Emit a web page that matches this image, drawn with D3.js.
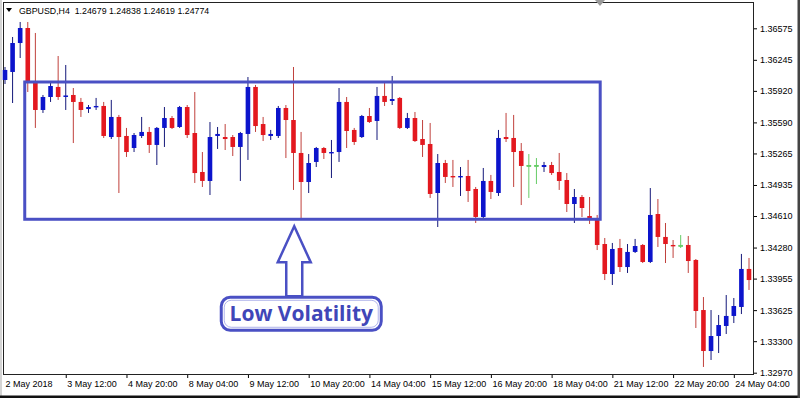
<!DOCTYPE html>
<html>
<head>
<meta charset="utf-8">
<script src="https://cdn.jsdelivr.net/npm/d3@7"></script>
<style>
	body { margin: 0; background: #fff; }
	svg { display: block; }
</style>
</head>
<body>
<svg id="chart" width="800" height="398"></svg>
<script>
// GBPUSD H4 candles, 2 May 2018 04:00 onwards
const openPrices = [
	1.36034, 1.36118, 1.36421, 1.36578, 1.36013, 1.35720, 1.35856, 1.35961, 1.35856, 1.35877,
	1.35804, 1.35730, 1.35751, 1.35762, 1.35437, 1.35647, 1.35448, 1.35322, 1.35448, 1.35490,
	1.35354, 1.35532, 1.35636, 1.35542, 1.35751, 1.35479, 1.35071, 1.34977, 1.35448, 1.35437,
	1.35437, 1.35333, 1.35469, 1.35961, 1.35573, 1.35448, 1.35448, 1.35741, 1.35615, 1.35270,
	1.34966, 1.35176, 1.35322, 1.35270, 1.35280, 1.35804, 1.35511, 1.35437, 1.35657, 1.35605,
	1.35867, 1.35814, 1.35846, 1.35532, 1.35636, 1.35416, 1.35364, 1.34851, 1.35165, 1.35029,
	1.35019, 1.35029, 1.34893, 1.34600, 1.34977, 1.34851, 1.35437, 1.35427, 1.35291, 1.35139,
	1.35139, 1.35123, 1.35144, 1.35071, 1.34987, 1.34736, 1.34809, 1.34610, 1.34568, 1.34317,
	1.34003, 1.34275, 1.34076, 1.34234, 1.34307, 1.34129, 1.34631, 1.34391, 1.34307, 1.34302,
	1.34307, 1.34150, 1.33626, 1.33197, 1.33354, 1.33459, 1.33564, 1.33658, 1.34056
];
const highPrices = [
	1.36170, 1.36484, 1.36641, 1.36641, 1.36526, 1.35877, 1.36013, 1.36285, 1.36191, 1.35950,
	1.35846, 1.35772, 1.35846, 1.35804, 1.35825, 1.35668, 1.35532, 1.35479, 1.35647, 1.35542,
	1.35542, 1.35751, 1.35657, 1.35762, 1.35772, 1.35908, 1.35280, 1.35594, 1.35542, 1.35573,
	1.35458, 1.35490, 1.36065, 1.35982, 1.35647, 1.35511, 1.35762, 1.35772, 1.36170, 1.35490,
	1.35259, 1.35333, 1.35333, 1.35406, 1.35950, 1.35856, 1.35532, 1.35668, 1.35741, 1.35961,
	1.36003, 1.36076, 1.35856, 1.35689, 1.35699, 1.35615, 1.35584, 1.35259, 1.35197, 1.35197,
	1.35123, 1.35197, 1.34914, 1.35113, 1.35040, 1.35511, 1.35689, 1.35668, 1.35374, 1.35259,
	1.35217, 1.35176, 1.35176, 1.35270, 1.35060, 1.34893, 1.34830, 1.34809, 1.34621, 1.34380,
	1.34328, 1.34370, 1.34317, 1.34370, 1.34317, 1.34903, 1.34788, 1.34537, 1.34359, 1.34411,
	1.34401, 1.34160, 1.33762, 1.33626, 1.33574, 1.33783, 1.33752, 1.34213, 1.34171
];
const lowPrices = [
	1.35992, 1.35793, 1.36264, 1.35908, 1.35532, 1.35689, 1.35804, 1.35825, 1.35720, 1.35374,
	1.35647, 1.35689, 1.35720, 1.35427, 1.35416, 1.34851, 1.35228, 1.35280, 1.35427, 1.35270,
	1.35144, 1.35333, 1.35521, 1.35532, 1.35427, 1.34956, 1.34914, 1.34830, 1.35312, 1.35301,
	1.35238, 1.34977, 1.35197, 1.35490, 1.35395, 1.35406, 1.35427, 1.35217, 1.34883, 1.34568,
	1.34851, 1.35123, 1.35207, 1.35008, 1.35176, 1.35322, 1.35354, 1.35427, 1.35584, 1.35406,
	1.35762, 1.35772, 1.35521, 1.35521, 1.35385, 1.35228, 1.34799, 1.34495, 1.34956, 1.34914,
	1.34820, 1.34757, 1.34537, 1.34589, 1.34788, 1.34820, 1.35385, 1.34914, 1.34725, 1.34799,
	1.34945, 1.35071, 1.35040, 1.34883, 1.34652, 1.34537, 1.34600, 1.34527, 1.34254, 1.33940,
	1.33888, 1.34024, 1.34014, 1.34223, 1.34118, 1.34118, 1.34286, 1.34118, 1.34171, 1.34275,
	1.34014, 1.33438, 1.33030, 1.33103, 1.33176, 1.33375, 1.33490, 1.33584, 1.33836
];
const closePrices = [
	1.36139, 1.36421, 1.36578, 1.36013, 1.35720, 1.35856, 1.35971, 1.35856, 1.35872, 1.35804,
	1.35720, 1.35751, 1.35762, 1.35448, 1.35647, 1.35437, 1.35280, 1.35458, 1.35490, 1.35354,
	1.35532, 1.35636, 1.35532, 1.35751, 1.35458, 1.35060, 1.34977, 1.35437, 1.35469, 1.35416,
	1.35333, 1.35479, 1.35961, 1.35552, 1.35458, 1.35469, 1.35741, 1.35615, 1.35270, 1.34966,
	1.35165, 1.35322, 1.35270, 1.35280, 1.35804, 1.35500, 1.35385, 1.35657, 1.35594, 1.35867,
	1.35804, 1.35835, 1.35532, 1.35636, 1.35395, 1.35354, 1.34841, 1.35165, 1.35019, 1.35019,
	1.35029, 1.34872, 1.34600, 1.34977, 1.34862, 1.35427, 1.35416, 1.35280, 1.35134, 1.35139,
	1.35139, 1.35144, 1.35060, 1.34977, 1.34736, 1.34809, 1.34694, 1.34589, 1.34307, 1.34003,
	1.34265, 1.34076, 1.34234, 1.34296, 1.34129, 1.34621, 1.34391, 1.34317, 1.34296, 1.34302,
	1.34139, 1.33616, 1.33197, 1.33354, 1.33469, 1.33564, 1.33668, 1.34056, 1.33940
];

// axis labels
const priceTicks = [1.36575, 1.36245, 1.35920, 1.35590, 1.35265, 1.34935, 1.34610, 1.34280, 1.33955, 1.33625, 1.33300, 1.32970];
const timeLabels = ["2 May 2018", "3 May 12:00", "4 May 20:00", "8 May 04:00", "9 May 12:00", "10 May 20:00", "14 May 04:00",
	"15 May 12:00", "16 May 20:00", "18 May 04:00", "21 May 12:00", "22 May 20:00", "24 May 04:00"];
const barsPerLabel = 8;

// consolidation range (bar index, price)
const rangeBars = [2.6, 78.4];
const rangePrices = [1.34576, 1.36013];
const arrowBar = 38.1;
const calloutText = "Low Volatility";

const headerText = "GBPUSD,H4  1.24679 1.24838 1.24619 1.24774";

const svg = d3.select("#chart");
const plot = { left: 3, top: 2, right: 753, bottom: 374 };
const boxColor = "#4a50c4";

// chart background and window frame
svg.append("rect").attr("width", 800).attr("height", 398).attr("fill", "#fff");
svg.append("rect").attr("x", 0).attr("y", 0).attr("width", 2).attr("height", 398).attr("fill", "#d4d4d4");
svg.append("rect").attr("x", 0).attr("y", 395.5).attr("width", 800).attr("height", 2.5).attr("fill", "#111");
svg.append("rect").attr("x", 797.5).attr("y", 0).attr("width", 2.5).attr("height", 398).attr("fill", "#444");

let data = openPrices.map((o, i) => ({
	i: i,
	open: o,
	high: highPrices[i],
	low: lowPrices[i],
	close: closePrices[i]
}));

// scales
let x = d3.scaleLinear()
	.domain([0, data.length - 1])
	.range([5, 749]);

let y = d3.scaleLinear()
	.domain([1.32970, 1.36575])
	.range([372.7, 28.3]);

// y-axis on the right
let yAxis = svg.append("g")
	.attr("transform", "translate(" + plot.right + ",0)")
	.call(d3.axisRight(y)
		.tickValues(priceTicks)
		.tickSize(4)
		.tickPadding(3)
		.tickFormat(d3.format(".5f")));
yAxis.select(".domain").remove();
yAxis.selectAll("text")
	.attr("font-family", "Liberation Sans, Arial, sans-serif")
	.attr("font-size", 9)
	.attr("fill", "#000");
yAxis.selectAll("line").attr("stroke", "#000");

// x-axis
let tickIdx = timeLabels.map((d, k) => k * barsPerLabel);
let xAxis = svg.append("g")
	.attr("transform", "translate(0," + plot.bottom + ")")
	.call(d3.axisBottom(x)
		.tickValues(tickIdx)
		.tickSize(4)
		.tickPadding(3)
		.tickFormat((d, k) => timeLabels[k]));
xAxis.select(".domain").remove();
xAxis.selectAll("text")
	.attr("text-anchor", "start")
	.attr("x", 1)
	.attr("font-family", "Liberation Sans, Arial, sans-serif")
	.attr("font-size", 9)
	.attr("fill", "#000");
xAxis.selectAll("line").attr("stroke", "#000");
// first label sits at the left edge, no tick mark
xAxis.select(".tick").select("line").remove();
xAxis.select(".tick").select("text").attr("x", 0);

// plot frame
svg.append("rect")
	.attr("x", plot.left + 0.5)
	.attr("y", plot.top + 0.5)
	.attr("width", plot.right - plot.left)
	.attr("height", plot.bottom - plot.top)
	.attr("fill", "none")
	.attr("stroke", "#222")
	.attr("stroke-width", 1);

// chart shift marker
svg.append("path")
	.attr("d", "M595,0 L605,0 L600,6 Z")
	.attr("fill", "#9a9a9a");

// candles
function bodyColor(d) {
	if (d.close > d.open) return "#0c14cc";
	if (d.close < d.open) return "#e3181f";
	return "#66cc66";
}
function wickColor(d) {
	if (d.close > d.open) return "#14187a";
	if (d.close < d.open) return "#c0403c";
	return "#66cc66";
}
let bodyW = 4.6;

let candles = svg.append("g").selectAll("g")
	.data(data)
	.enter()
	.append("g");

candles.append("line")
	.attr("x1", d => x(d.i))
	.attr("x2", d => x(d.i))
	.attr("y1", d => y(d.high))
	.attr("y2", d => y(d.low))
	.attr("stroke", wickColor)
	.attr("stroke-width", 1);

candles.append("rect")
	.attr("x", d => x(d.i) - bodyW / 2)
	.attr("y", d => y(Math.max(d.open, d.close)))
	.attr("width", bodyW)
	.attr("height", d => Math.max(1.4, Math.abs(y(d.open) - y(d.close))))
	.attr("fill", bodyColor);

// green dojis are drawn as a cross
candles.filter(d => d.open === d.close)
	.append("line")
	.attr("x1", d => x(d.i) - bodyW / 2)
	.attr("x2", d => x(d.i) + bodyW / 2)
	.attr("y1", d => y(d.open))
	.attr("y2", d => y(d.open))
	.attr("stroke", "#66cc66")
	.attr("stroke-width", 1);

// range box
svg.append("rect")
	.attr("x", x(rangeBars[0]))
	.attr("y", y(rangePrices[1]))
	.attr("width", x(rangeBars[1]) - x(rangeBars[0]))
	.attr("height", y(rangePrices[0]) - y(rangePrices[1]))
	.attr("fill", "none")
	.attr("stroke", boxColor)
	.attr("stroke-width", 3);

// arrow pointing at the box bottom
let tipX = x(arrowBar);
let tipY = y(rangePrices[0]) + 7;
let arrowPts = [
	[tipX, tipY], [tipX + 16.5, tipY + 36], [tipX + 8, tipY + 36], [tipX + 8, tipY + 70],
	[tipX - 8, tipY + 70], [tipX - 8, tipY + 36], [tipX - 16.5, tipY + 36]
];
svg.append("path")
	.attr("d", d3.line()(arrowPts) + "Z")
	.attr("fill", "#fff")
	.attr("stroke", boxColor)
	.attr("stroke-width", 2.5)
	.attr("stroke-linejoin", "miter");

// callout
let callout = svg.append("g").attr("transform", "translate(" + (tipX + 7) + "," + (tipY + 87) + ")");
callout.append("rect")
	.attr("x", -80)
	.attr("y", -16)
	.attr("width", 160)
	.attr("height", 33)
	.attr("rx", 9)
	.attr("fill", "#fff")
	.attr("stroke", boxColor)
	.attr("stroke-width", 3);
callout.append("rect")
	.attr("x", -77)
	.attr("y", -13)
	.attr("width", 154)
	.attr("height", 27)
	.attr("rx", 7)
	.attr("fill", "none")
	.attr("stroke", "#9aa0e6")
	.attr("stroke-width", 0.8);
callout.append("text")
	.attr("text-anchor", "middle")
	.attr("y", 8)
	.attr("font-family", "Open Sans, sans-serif")
	.attr("font-weight", 700)
	.attr("font-size", 21)
	.attr("fill", "#4046b8")
	.text(calloutText);

// header
svg.append("path")
	.attr("d", "M6,8 L12,8 L9,12 Z")
	.attr("fill", "#000");
svg.append("text")
	.attr("x", 19)
	.attr("y", 13.5)
	.attr("font-family", "Liberation Sans, Arial, sans-serif")
	.attr("font-size", 8.8)
	.attr("fill", "#000")
	.style("white-space", "pre")
	.text(headerText);
</script>
</body>
</html>
